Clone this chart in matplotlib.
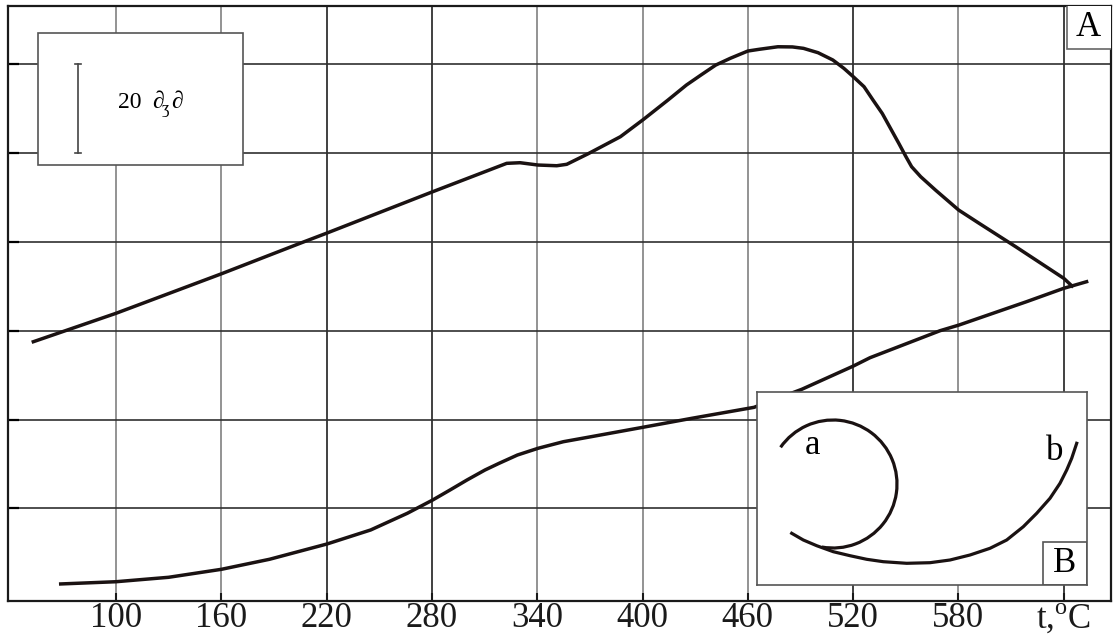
import numpy as np
import matplotlib
matplotlib.use("Agg")
import matplotlib.pyplot as plt
from matplotlib.patches import Rectangle, Arc

plt.rcParams['font.family'] = ['Liberation Serif', 'DejaVu Serif']
plt.rcParams['mathtext.fontset'] = 'custom'
plt.rcParams['mathtext.rm'] = 'Liberation Serif'

# temperature axis
t_ticks = [100, 160, 220, 280, 340, 400, 460, 520, 580, 640]
t_labels = ['100', '160', '220', '280', '340', '400', '460', '520', '580', r't,$^{\mathrm{o}}$C']
dark_lines = [220, 280, 520, 640]
y_ticks = [1, 2, 3, 4, 5, 6]

# curve A (upper)
a_t = [52.9, 100.0, 159.8, 204.8, 219.8, 280.4, 322.6, 330.2, 340.4, 351.1, 356.8,
       368.7, 387.4, 400.6, 414.5, 425.0, 433.3, 441.7, 450.0, 460.0, 466.7, 477.1,
       485.4, 491.7, 500.0, 508.4, 514.7, 520.1, 526.2, 531.3, 536.6, 541.8, 546.0,
       550.1, 553.3, 558.5, 566.9, 580.1, 591.8, 612.6, 640.0, 644.7]
a_y = [2.876, 3.196, 3.639, 3.984, 4.097, 4.565, 4.885, 4.892, 4.866, 4.858, 4.874,
       4.990, 5.185, 5.381, 5.598, 5.767, 5.880, 5.992, 6.068, 6.150, 6.170, 6.198,
       6.196, 6.180, 6.131, 6.049, 5.955, 5.860, 5.748, 5.598, 5.446, 5.260, 5.110,
       4.959, 4.847, 4.734, 4.584, 4.359, 4.209, 3.946, 3.590, 3.503]

# curve B (lower)
b_t = [68.5, 99.9, 130.0, 160.1, 187.5, 220.2, 245.1, 266.0, 280.4, 290.3, 300.0,
       310.2, 318.3, 328.7, 340.5, 354.9, 370.6, 400.1, 428.2, 463.5, 490.7, 520.1,
       529.6, 569.5, 580.3, 618.8, 639.9, 653.0]
b_y = [0.148, 0.173, 0.223, 0.313, 0.426, 0.598, 0.756, 0.944, 1.093, 1.206, 1.319,
       1.431, 1.507, 1.600, 1.676, 1.750, 1.806, 1.912, 2.014, 2.137, 2.340, 2.602,
       2.696, 3.000, 3.064, 3.327, 3.477, 3.552]

# inset sketch: arc a and curve b
arc_center = (76, 101)
arc_radius = 64
arc_from, arc_to = -100, 145
sk_x = [34.7, 46.3, 59.7, 76.3, 93.0, 109.7, 126.3, 149.7, 173.0, 193.0, 213.0,
        233.0, 249.7, 266.3, 279.7, 293.0, 303.0, 309.7, 314.7, 319.7]
sk_y = [51.7, 45.0, 39.3, 33.3, 29.3, 25.7, 23.3, 21.7, 22.3, 25.0, 30.0,
        36.7, 45.0, 58.3, 71.7, 86.7, 101.7, 115.0, 126.7, 141.7]

fig = plt.figure(figsize=(11.14, 6.44), dpi=100)
ax = fig.add_axes([8 / 1114, 43 / 644, 1103 / 1114, 595 / 644])
ax.set_xlim(38.47, 666.9)
ax.set_ylim(-0.044, 6.657)

for t in t_ticks:
    c = '#202020' if t in dark_lines else '#808080'
    ax.axvline(t, color=c, lw=1.2, zorder=1)
for y in y_ticks:
    ax.axhline(y, color='#303030', lw=1.2, zorder=1)

ax.plot(a_t, a_y, color='#1a1212', lw=2.5, solid_joinstyle='round', zorder=3)
ax.plot(b_t, b_y, color='#1a1212', lw=2.5, solid_joinstyle='round', zorder=3)

ax.set_xticks(t_ticks)
ax.set_xticklabels(t_labels, fontsize=25)
ax.set_yticks(y_ticks)
ax.set_yticklabels([])
ax.tick_params(axis='x', direction='in', length=6, width=1.5, pad=1, colors='#1a1a1a')
ax.tick_params(axis='y', direction='in', length=8, width=1.6)
for s in ax.spines.values():
    s.set_linewidth(1.6)
    s.set_color('#1a1a1a')

# scale box, top left
ax.add_patch(Rectangle((55.6, 4.866), 116.8, 1.487, facecolor='white',
                       edgecolor='#555555', lw=1.2, zorder=4))
ax.plot([78.4, 78.4], [5, 6], color='#444444', lw=1.2, zorder=5)
ax.plot([76.7, 80.1], [5, 5], color='#444444', lw=1.2, zorder=5)
ax.plot([76.7, 80.1], [6, 6], color='#444444', lw=1.2, zorder=5)
ax.text(101.1, 5.565, '20', fontsize=17, ha='left', va='center', zorder=6)
ax.text(120.6, 5.575, '\u2202', fontsize=17, ha='left', va='center', zorder=6)
ax.text(126.3, 5.50, '\u0292', fontsize=12, ha='left', va='center', zorder=6)
ax.text(131.5, 5.575, '\u2202', fontsize=17, ha='left', va='center', zorder=6)

# box A, top right
ax.add_patch(Rectangle((641.8, 6.172), 40, 1.0, facecolor='white',
                       edgecolor='#666666', lw=1.2, zorder=4))
ax.text(654.0, 6.42, 'A', fontsize=25, ha='center', va='center', zorder=6)

# inset B
ins = fig.add_axes([757 / 1114, 59 / 644, 330 / 1114, 193 / 644])
ins.set_xlim(0, 330)
ins.set_ylim(0, 193)
ins.set_xticks([])
ins.set_yticks([])
for s in ins.spines.values():
    s.set_color('#555555')
    s.set_linewidth(1.2)
ins.add_patch(Arc(arc_center, 2 * arc_radius, 2 * arc_radius, theta1=arc_from, theta2=arc_to,
                  color='#1a1212', lw=2.3))
ins.plot(sk_x, sk_y, color='#1a1212', lw=2.3, solid_joinstyle='round')
ins.text(55, 140, 'a', fontsize=25, ha='center', va='center')
ins.text(298, 133, 'b', fontsize=25, ha='center', va='center')
ins.add_patch(Rectangle((286, 0), 44, 43, facecolor='white', edgecolor='#555555', lw=1.2))
ins.text(308, 21, 'B', fontsize=25, ha='center', va='center')

fig.savefig('out.png', dpi=100)
